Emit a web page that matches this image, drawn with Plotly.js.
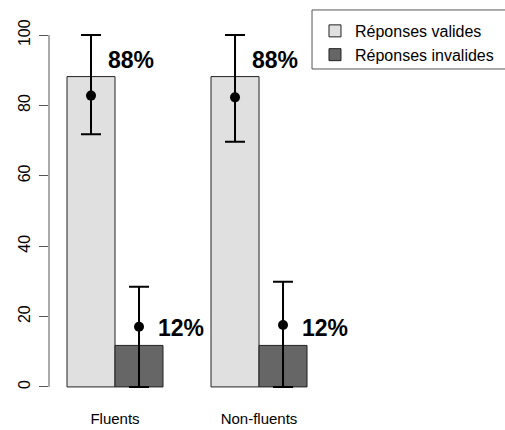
<!DOCTYPE html>
<html>
<head>
<meta charset="utf-8">
<script src="https://cdn.plot.ly/plotly-3.0.1.min.js"></script>
<style>html,body{margin:0;padding:0;background:#fff;}#chart{width:505px;height:430px;}</style>
</head>
<body>
<div id="chart"></div>
<script>
// ---- data ----
const categories = ["Fluents", "Non-fluents"];
const seriesNames = ["Réponses valides", "Réponses invalides"];
const validBars = [88.2, 88.2];
const invalidBars = [11.8, 11.8];
const validMean = [82.8, 82.3];
const validUpper = [100, 100];
const validLower = [71.8, 69.7];
const invalidMean = [17.1, 17.6];
const invalidUpper = [28.5, 29.9];
const invalidLower = [0, 0];
const yTicks = [0, 20, 40, 60, 80, 100];

const FONT = "Liberation Sans, Arial, sans-serif";
const fills = ["#e0e0e0", "#666666"];
const barVals = [validBars, invalidBars];
const means = [validMean, invalidMean];
const uppers = [validUpper, invalidUpper];
const lowers = [validLower, invalidLower];
const groups = ["v", "i"];

const traces = [];
for (let s = 0; s < 2; s++) {
  traces.push({
    type: "bar", name: seriesNames[s], x: categories, y: barVals[s],
    offsetgroup: groups[s],
    marker: {color: fills[s], line: {color: "#222", width: 1}},
    hoverinfo: "skip"
  });
}
for (let s = 0; s < 2; s++) {
  traces.push({
    type: "scatter", mode: "markers", x: categories, y: means[s],
    offsetgroup: groups[s], showlegend: false,
    marker: {color: "#000", size: 10},
    error_y: {
      type: "data", symmetric: false,
      array: means[s].map((m, i) => uppers[s][i] - m),
      arrayminus: means[s].map((m, i) => m - lowers[s][i]),
      color: "#000", thickness: 2, width: 10
    },
    hoverinfo: "skip"
  });
}

const annotations = [];
const xshifts = [-9, 41];
for (let s = 0; s < 2; s++) {
  categories.forEach((c, i) => {
    annotations.push({
      x: c, y: barVals[s][i], xref: "x", yref: "y",
      text: Math.round(barVals[s][i]) + "%", showarrow: false,
      xanchor: "left", yanchor: "middle", xshift: xshifts[s], yshift: 17,
      font: {family: FONT, size: 23, color: "#000", weight: "bold"}
    });
  });
}

const layout = {
  width: 505, height: 430,
  margin: {l: 49, r: 0, t: 21, b: 29},
  paper_bgcolor: "#fff", plot_bgcolor: "#fff",
  barmode: "group", bargap: 1/3, bargroupgap: 0,
  scattermode: "group",
  showlegend: true,
  legend: {
    x: 0.5833, y: 1.0185, xanchor: "left", yanchor: "top",
    bgcolor: "rgba(0,0,0,0)", borderwidth: 0,
    font: {family: FONT, size: 16, color: "#000"},
    tracegroupgap: 0
  },
  xaxis: {
    range: [-0.4583, 2.708], showgrid: false, zeroline: false, showline: false,
    ticks: "", ticklabelstandoff: 7,
    tickfont: {family: FONT, size: 15, color: "#000"}
  },
  yaxis: {
    range: [-4, 104], showgrid: false, zeroline: false, showline: false,
    tickvals: yTicks, ticktext: yTicks.map(String),
    ticks: "outside", ticklen: 9, tickwidth: 1, tickcolor: "#555",
    tickangle: -90, ticklabelstandoff: 3,
    tickfont: {family: FONT, size: 16, color: "#000"}
  },
  shapes: [
    {type: "line", xref: "paper", yref: "y", x0: 0, x1: 0,
     y0: yTicks[0], y1: yTicks[yTicks.length - 1], line: {color: "#555", width: 1}},
    {type: "rect", xref: "paper", yref: "paper", x0: 0.5768, x1: 1.2, y0: 0.8737, y1: 1.029,
     line: {color: "#555", width: 1}, fillcolor: "rgba(0,0,0,0)"}
  ],
  annotations: annotations
};

Plotly.newPlot("chart", traces, layout, {displayModeBar: false, staticPlot: true});
</script>
</body>
</html>
